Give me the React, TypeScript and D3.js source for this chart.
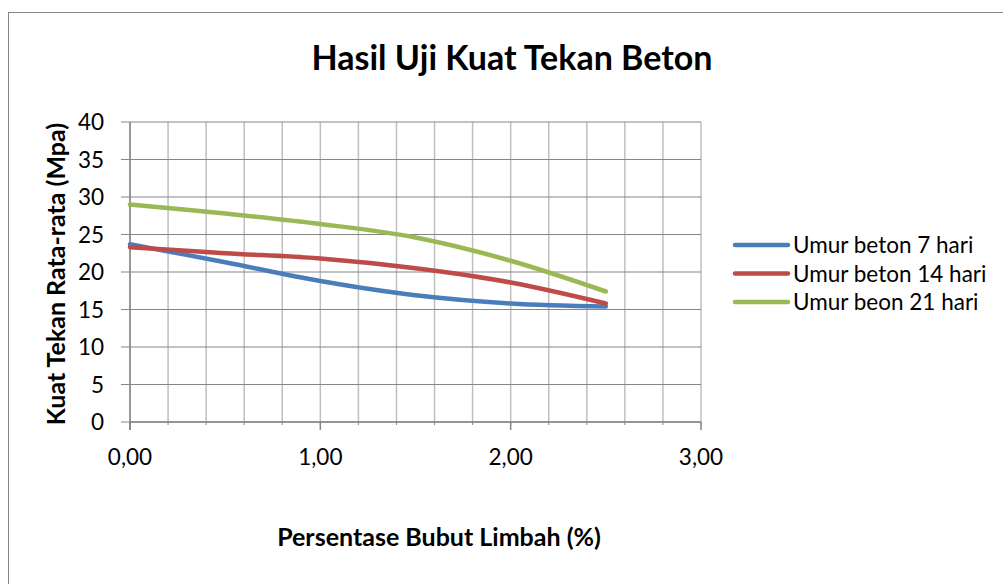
import React from 'react';
import * as d3 from 'd3';

const xValues = [0, 0.5, 1.0, 1.5, 2.0, 2.5];
const umur7 = [23.7, 21.3, 18.8, 16.9, 15.8, 15.4];
const umur14 = [23.3, 22.5, 21.8, 20.5, 18.6, 15.8];
const umur21 = [29.0, 27.8, 26.4, 24.6, 21.5, 17.4];
const seriesNames = ['Umur beton 7 hari', 'Umur beton 14 hari', 'Umur beon 21 hari'];
const seriesColors = ['#4A7EBB', '#BE4B48', '#98B954'];
const yTicks = [0, 5, 10, 15, 20, 25, 30, 35, 40];
const xMajorTicks = [0, 1, 2, 3];

const FONT = 'Lato, "Open Sans", sans-serif';

export default function App() {
  const width = 1003;
  const height = 584;
  const left = 130;
  const right = 701;
  const top = 122;
  const bottom = 422;

  const x = d3.scaleLinear().domain([0, 3]).range([left, right]);
  const y = d3.scaleLinear().domain([0, 40]).range([bottom, top]);

  const minorX = d3.range(0, 3.0001, 0.2);
  const allSeries = [umur7, umur14, umur21];

  const line = d3.line<number>()
    .x((_: number, i: number) => x(xValues[i]))
    .y((d: number) => y(d))
    .curve(d3.curveCatmullRom.alpha(0.5));

  return (
    <svg width={width} height={height} style={{ position: 'absolute', left: 0, top: 0 }}>
      <rect x={0} y={0} width={width} height={height} fill="#fff" />
      <rect x={8.5} y={12.5} width={width} height={height} fill="#fff" stroke="#868686" strokeWidth={1} />

      <text x={512} y={70} textAnchor="middle" fontFamily={FONT} fontWeight="bold" fontSize={34} fill="#000">
        Hasil Uji Kuat Tekan Beton
      </text>

      {/* vertical gridlines */}
      {minorX.map((v) => (
        <line key={'vx' + v} x1={x(v)} x2={x(v)} y1={top} y2={bottom} stroke="#BFBFBF" strokeWidth={1.5} />
      ))}
      {/* horizontal gridlines */}
      {yTicks.map((v) => (
        <line key={'hy' + v} x1={left - 9} x2={right} y1={y(v)} y2={y(v)} stroke="#868686" strokeWidth={1.2} />
      ))}
      {/* axes */}
      <line x1={left} x2={left} y1={top} y2={bottom + 8} stroke="#868686" strokeWidth={1.5} />
      <line x1={left} x2={right} y1={bottom} y2={bottom} stroke="#868686" strokeWidth={1.5} />
      {minorX.map((v) => (
        <line key={'mt' + v} x1={x(v)} x2={x(v)} y1={bottom} y2={bottom + 3} stroke="#868686" strokeWidth={1} />
      ))}
      {xMajorTicks.map((v) => (
        <line key={'xt' + v} x1={x(v)} x2={x(v)} y1={bottom} y2={bottom + 8} stroke="#868686" strokeWidth={1.5} />
      ))}

      {yTicks.map((v) => (
        <text key={'yl' + v} x={left - 26} y={y(v) + 8} textAnchor="end" fontFamily={FONT} fontSize={22.5} fill="#000">
          {v}
        </text>
      ))}
      {xMajorTicks.map((v) => (
        <text key={'xl' + v} x={x(v)} y={bottom + 43} textAnchor="middle" fontFamily={FONT} fontSize={22.5} fill="#000">
          {v.toFixed(2).replace('.', ',')}
        </text>
      ))}

      <text
        transform={`translate(65,274) rotate(-90)`}
        textAnchor="middle"
        fontFamily={FONT}
        fontWeight="bold"
        fontSize={25}
        fill="#000"
      >
        Kuat Tekan Rata-rata (Mpa)
      </text>
      <text x={439} y={546} textAnchor="middle" fontFamily={FONT} fontWeight="bold" fontSize={25} fill="#000">
        Persentase Bubut Limbah (%)
      </text>

      {allSeries.map((s, i) => (
        <path
          key={'s' + i}
          d={line(s) || ''}
          fill="none"
          stroke={seriesColors[i]}
          strokeWidth={4.5}
          strokeLinecap="round"
          strokeLinejoin="round"
        />
      ))}

      {seriesNames.map((name, i) => (
        <g key={'lg' + i} transform={`translate(0,${245 + i * 28.5})`}>
          <line x1={735} x2={788} y1={0} y2={0} stroke={seriesColors[i]} strokeWidth={4.5} strokeLinecap="round" />
          <text x={793} y={8} fontFamily={FONT} fontSize={22.5} fill="#000">
            {name}
          </text>
        </g>
      ))}
    </svg>
  );
}
